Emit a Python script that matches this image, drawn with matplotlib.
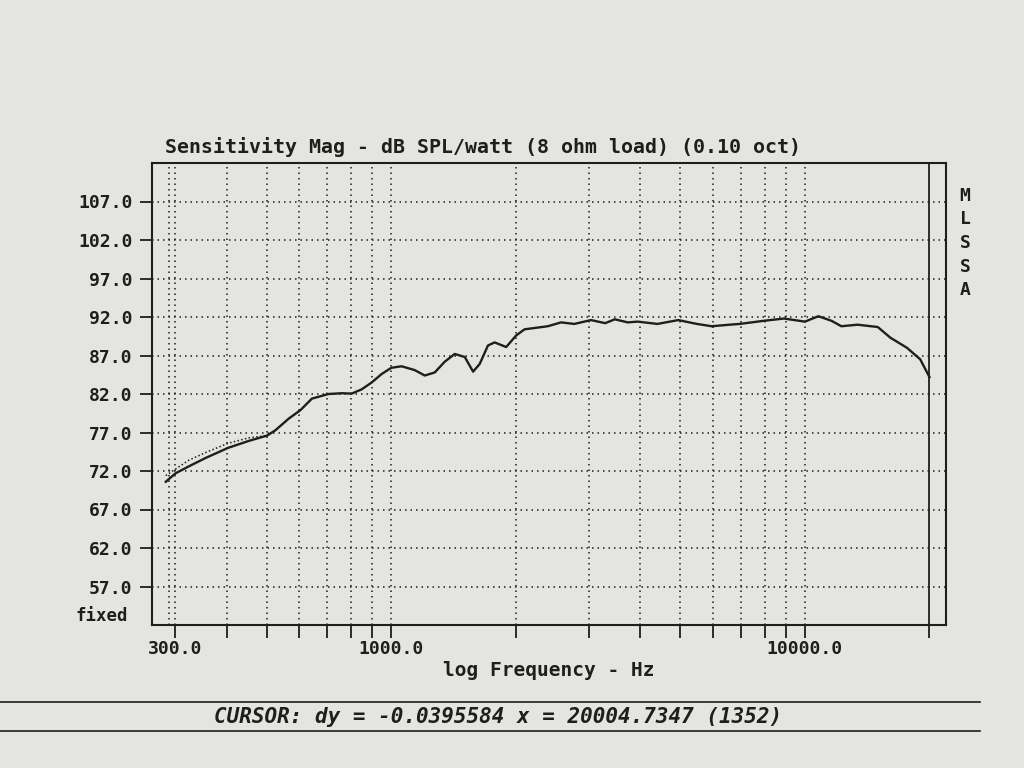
import matplotlib
matplotlib.use("Agg")
import matplotlib.pyplot as plt
from matplotlib.lines import Line2D

freq = [285, 301, 324, 356, 403, 452, 501, 525, 565, 603, 643, 705, 760, 802,
        848, 897, 948, 1000, 1059, 1140, 1205, 1274, 1347, 1424, 1506, 1577,
        1636, 1713, 1778, 1896, 2004, 2100, 2390, 2573, 2770, 3040, 3290,
        3470, 3730, 3940, 4400, 4940, 5480, 5950, 6580, 6950, 7940, 8900,
        10000, 10780, 11600, 12250, 13400, 15000, 16100, 17650, 19000, 20000]
spl = [70.6, 71.7, 72.6, 73.7, 75.0, 75.9, 76.6, 77.3, 78.8, 79.9, 81.4, 82.0,
       82.1, 82.05, 82.6, 83.5, 84.6, 85.4, 85.6, 85.1, 84.4, 84.8, 86.2, 87.2,
       86.8, 84.9, 85.9, 88.3, 88.7, 88.1, 89.6, 90.4, 90.8, 91.3, 91.1, 91.6,
       91.2, 91.7, 91.3, 91.4, 91.1, 91.6, 91.1, 90.8, 91.0, 91.1, 91.5, 91.8,
       91.4, 92.1, 91.5, 90.8, 91.0, 90.7, 89.3, 88.0, 86.5, 84.2]

# faint dotted reference trace at the low end
ref_freq = [285, 324, 356, 403, 452, 501]
ref_spl = [71.4, 73.4, 74.4, 75.6, 76.3, 76.6]

y_ticks = [57, 62, 67, 72, 77, 82, 87, 92, 97, 102, 107]
x_grid = [300, 400, 500, 600, 700, 800, 900, 1000, 2000, 3000, 4000, 5000,
          6000, 7000, 8000, 9000, 10000]
x_labels = {300: "300.0", 1000: "1000.0", 10000: "10000.0"}
cursor_x = 20004.7347

ink = "#1e1e1c"
paper = "#e4e4e0"
mono = "DejaVu Sans Mono"

fig = plt.figure(figsize=(10.24, 7.68), dpi=100, facecolor=paper)
ax = fig.add_axes([152 / 1024, 143 / 768, 794 / 1024, 462 / 768])
ax.set_facecolor(paper)
ax.set_xscale("log")
ax.set_xlim(264, 21930)
ax.set_ylim(52, 112)

dots = (0, (1, 2.6))
for y in y_ticks:
    ax.axhline(y, color=ink, lw=1.1, ls=dots)
for x in x_grid:
    ax.axvline(x, color=ink, lw=1.1, ls=dots)
ax.axvline(291, color=ink, lw=1.1, ls=dots)
ax.axvline(cursor_x, color=ink, lw=1.3)

ax.plot(ref_freq, ref_spl, color=ink, lw=1.1, ls=(0, (1, 1.5)))
ax.plot(freq, spl, color=ink, lw=1.7)

for s in ax.spines.values():
    s.set_color(ink)
    s.set_linewidth(1.5)

ax.set_yticks(y_ticks)
ax.set_yticklabels([f"{v:.1f}" for v in y_ticks])
ax.set_xticks(x_grid + [cursor_x])
ax.set_xticklabels([x_labels.get(v, "") for v in x_grid] + [""])
ax.minorticks_off()
ax.tick_params(axis="both", direction="out", length=9, width=1.3,
               color=ink, labelcolor=ink)
ax.tick_params(axis="y", pad=5)
ax.tick_params(axis="x", pad=2)
for lab in ax.get_yticklabels() + ax.get_xticklabels():
    lab.set_fontfamily(mono)
    lab.set_fontweight("bold")
    lab.set_fontsize(13)

ax.text(-0.030, 53.2, "fixed", transform=ax.get_yaxis_transform(),
        ha="right", va="center", family=mono, weight="bold", fontsize=12.5,
        color=ink)

ax.set_xlabel("log Frequency - Hz", family=mono, weight="bold", fontsize=14,
              color=ink, labelpad=2)
fig.text(165 / 1024, 1 - 147 / 768,
         "Sensitivity Mag - dB SPL/watt (8 ohm load) (0.10 oct)",
         family=mono, weight="bold", fontsize=14.3, color=ink,
         va="center", ha="left")
fig.text(965 / 1024, 1 - 243 / 768, "M\nL\nS\nS\nA", family=mono,
         weight="bold", fontsize=13, color=ink, ha="center", va="center",
         linespacing=1.4)

fig.add_artist(Line2D([0, 980 / 1024], [1 - 702 / 768] * 2, color=ink, lw=1.2))
fig.add_artist(Line2D([0, 980 / 1024], [1 - 731 / 768] * 2, color=ink, lw=1.2))
fig.text(498 / 1024, 1 - 717 / 768,
         "CURSOR: dy = -0.0395584 x = 20004.7347 (1352)",
         family=mono, style="italic", weight="bold", fontsize=15, color=ink,
         ha="center", va="center")

fig.savefig("out.png", dpi=100, facecolor=fig.get_facecolor())
